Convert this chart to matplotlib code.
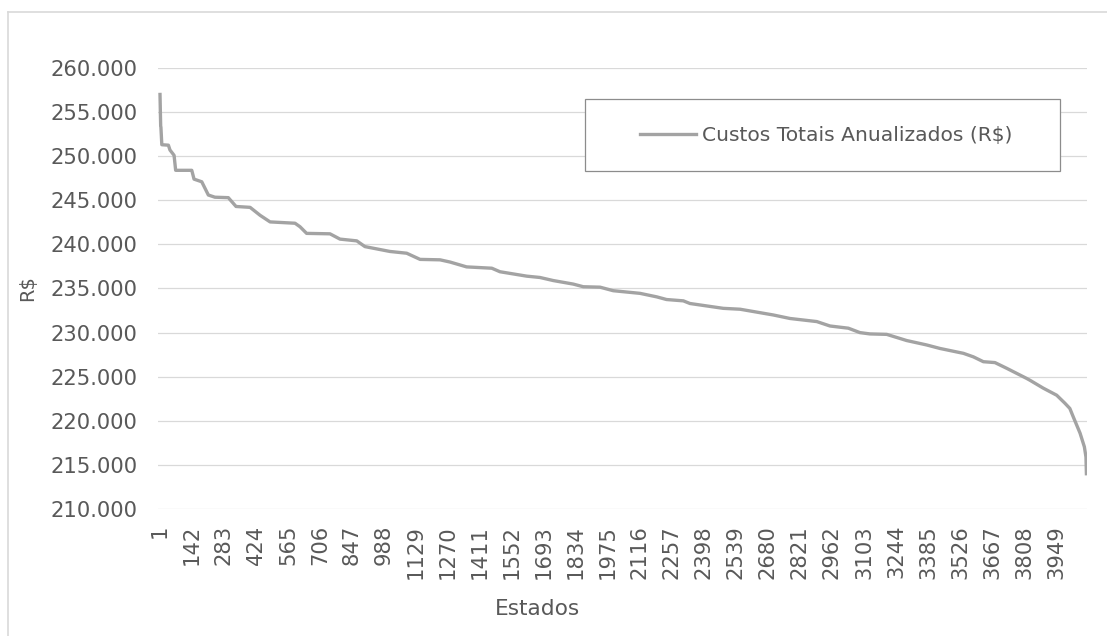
import matplotlib
matplotlib.use("Agg")
import matplotlib.pyplot as plt
from matplotlib.ticker import FuncFormatter
from matplotlib.patches import Rectangle
from matplotlib.lines import Line2D

# dados (estado ordenado -> custo anualizado)
estado = [1, 4, 5, 9, 38, 45, 63, 70, 141, 151, 185, 214, 243, 302, 336,
          398, 442, 486, 596, 618, 647, 750, 794, 868, 904, 1014, 1088, 1147,
          1235, 1279, 1352, 1463, 1499, 1617, 1675, 1734, 1822, 1866, 1940,
          1998, 2116, 2190, 2233, 2307, 2336, 2483, 2557, 2703, 2777, 2895,
          2953, 3034, 3085, 3129, 3203, 3291, 3379, 3438, 3541, 3585, 3629,
          3680, 3732, 3820, 3834, 3893, 3952, 3988, 4010, 4025, 4055, 4074,
          4081, 4083]
custo = [257000, 253400, 253300, 251300, 251250, 250700, 250100, 248400,
         248400, 247400, 247100, 245600, 245350, 245300, 244300, 244200,
         243300, 242550, 242400, 242000, 241250, 241200, 240600, 240400,
         239750, 239200, 239000, 238300, 238250, 238000, 237450, 237300,
         236900, 236400, 236250, 235900, 235500, 235200, 235150, 234750,
         234450, 234050, 233750, 233600, 233300, 232750, 232650, 232000,
         231600, 231250, 230750, 230500, 230000, 229850, 229800, 229100,
         228600, 228200, 227650, 227250, 226700, 226600, 225950, 224800,
         224600, 223700, 222900, 222000, 221400, 220450, 218600, 217050,
         215900, 214000]
xticks = list(range(1, 3950, 141))
yticks = list(range(210000, 260001, 5000))
serie = "Custos Totais Anualizados (R$)"

W, H = 1107, 636
TXT = "#595959"
plt.rcParams["font.family"] = "DejaVu Sans"

fig = plt.figure(figsize=(W / 100, H / 100), dpi=100)
ax = fig.add_axes([158 / W, 1 - 509 / H, 929 / W, 441 / H])

ln, = ax.plot(estado, custo, color="#A3A3A3", lw=2.4, solid_joinstyle="round")

ax.set_xlim(-7.8, 4085.6)
ax.set_ylim(210000, 260000)
ax.set_xticks(xticks)
ax.set_xticklabels([str(t) for t in xticks])
ax.set_yticks(yticks)
ax.yaxis.set_major_formatter(FuncFormatter(lambda v, p: f"{v:,.0f}".replace(",", ".")))
ax.tick_params(axis="both", length=0, labelsize=15.2, colors=TXT)
ax.tick_params(axis="y", pad=14.5)
ax.tick_params(axis="x", pad=11.5)
for t in ax.get_xticklabels():
    t.set_rotation(90)
    t.set_rotation_mode("anchor")
    t.set_ha("right"); t.set_va("center")

ax.grid(axis="y", color="#D9D9D9", lw=0.9)
ax.set_axisbelow(True)
for s in ax.spines.values():
    s.set_visible(False)

ax.set_ylabel("R$", fontsize=14, color=TXT)
ax.yaxis.set_label_coords((37 - 158) / 929, 0.5)
ax.set_xlabel("Estados", fontsize=15.6, color=TXT)
ax.xaxis.set_label_coords((537.5 - 158) / 929, (509 - 599) / 441)

# caixa da legenda
fig.add_artist(Rectangle((585 / W, 1 - 171 / H), 475 / W, 72.5 / H,
                         transform=fig.transFigure, fc="white", ec="#8C8C8C", lw=0.9))
fs = 14.6
fig.legend([ln], [serie], loc="center left", bbox_to_anchor=(629.6 / W, 1 - 136 / H),
           frameon=False, borderpad=0, fontsize=fs, labelcolor=TXT,
           handlelength=56.6 / (fs * 100 / 72), handletextpad=5.3 / (fs * 100 / 72))

# moldura externa do gráfico
fig.add_artist(Line2D([8 / W, 1], [1 - 12 / H] * 2, transform=fig.transFigure, color="#D9D9D9", lw=1.2))
fig.add_artist(Line2D([8 / W] * 2, [0, 1 - 12 / H], transform=fig.transFigure, color="#D9D9D9", lw=1.2))

fig.savefig("out.png", dpi=100, facecolor="white")
